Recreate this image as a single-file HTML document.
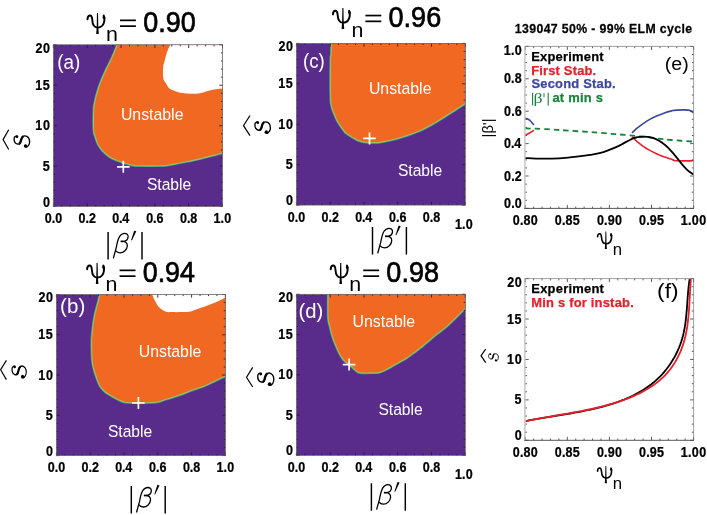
<!DOCTYPE html>
<html><head><meta charset="utf-8"><style>
html,body{margin:0;padding:0;background:#fff;}
svg{display:block;will-change:transform;}
text{font-kerning:none;}
</style></head><body>
<svg width="707" height="515" viewBox="0 0 707 515">
<rect width="707" height="515" fill="#fff"/>
<rect x="53.4" y="44.8" width="169.10" height="161.70" fill="#592c8c"/>
<path d="M117.30,44.80 C116.43,46.92 113.98,53.35 112.10,57.50 C110.22,61.65 107.90,65.62 106.00,69.70 C104.10,73.78 102.17,78.22 100.70,82.00 C99.23,85.78 98.22,88.90 97.20,92.40 C96.18,95.90 95.18,100.07 94.60,103.00 C94.02,105.93 93.85,105.42 93.70,110.00 C93.55,114.58 93.40,125.92 93.70,130.50 C94.00,135.08 94.77,135.17 95.50,137.50 C96.23,139.83 96.95,142.32 98.10,144.50 C99.25,146.68 100.52,148.57 102.40,150.60 C104.28,152.63 107.07,155.10 109.40,156.70 C111.73,158.30 114.07,159.18 116.40,160.20 C118.73,161.22 120.77,161.97 123.40,162.80 C126.03,163.63 129.43,164.70 132.20,165.20 C134.97,165.70 135.37,165.70 140.00,165.80 C144.63,165.90 155.50,165.87 160.00,165.80 C164.50,165.73 164.92,165.63 167.00,165.40 C169.08,165.17 169.83,164.92 172.50,164.40 C175.17,163.88 179.75,162.93 183.00,162.30 C186.25,161.67 189.25,161.17 192.00,160.60 C194.75,160.03 197.08,159.48 199.50,158.90 C201.92,158.32 204.20,157.68 206.50,157.10 C208.80,156.52 211.13,155.95 213.30,155.40 C215.47,154.85 217.97,154.20 219.50,153.80 C221.03,153.40 222.00,153.13 222.50,153.00" fill="none" stroke="#3b95a8" stroke-width="2.4"/>
<path d="M117.30,44.80 C116.43,46.92 113.98,53.35 112.10,57.50 C110.22,61.65 107.90,65.62 106.00,69.70 C104.10,73.78 102.17,78.22 100.70,82.00 C99.23,85.78 98.22,88.90 97.20,92.40 C96.18,95.90 95.18,100.07 94.60,103.00 C94.02,105.93 93.85,105.42 93.70,110.00 C93.55,114.58 93.40,125.92 93.70,130.50 C94.00,135.08 94.77,135.17 95.50,137.50 C96.23,139.83 96.95,142.32 98.10,144.50 C99.25,146.68 100.52,148.57 102.40,150.60 C104.28,152.63 107.07,155.10 109.40,156.70 C111.73,158.30 114.07,159.18 116.40,160.20 C118.73,161.22 120.77,161.97 123.40,162.80 C126.03,163.63 129.43,164.70 132.20,165.20 C134.97,165.70 135.37,165.70 140.00,165.80 C144.63,165.90 155.50,165.87 160.00,165.80 C164.50,165.73 164.92,165.63 167.00,165.40 C169.08,165.17 169.83,164.92 172.50,164.40 C175.17,163.88 179.75,162.93 183.00,162.30 C186.25,161.67 189.25,161.17 192.00,160.60 C194.75,160.03 197.08,159.48 199.50,158.90 C201.92,158.32 204.20,157.68 206.50,157.10 C208.80,156.52 211.13,155.95 213.30,155.40 C215.47,154.85 217.97,154.20 219.50,153.80 C221.03,153.40 222.00,153.13 222.50,153.00 L222.5,44.8 Z" fill="#f16823"/>
<path d="M117.30,44.80 C116.43,46.92 113.98,53.35 112.10,57.50 C110.22,61.65 107.90,65.62 106.00,69.70 C104.10,73.78 102.17,78.22 100.70,82.00 C99.23,85.78 98.22,88.90 97.20,92.40 C96.18,95.90 95.18,100.07 94.60,103.00 C94.02,105.93 93.85,105.42 93.70,110.00 C93.55,114.58 93.40,125.92 93.70,130.50 C94.00,135.08 94.77,135.17 95.50,137.50 C96.23,139.83 96.95,142.32 98.10,144.50 C99.25,146.68 100.52,148.57 102.40,150.60 C104.28,152.63 107.07,155.10 109.40,156.70 C111.73,158.30 114.07,159.18 116.40,160.20 C118.73,161.22 120.77,161.97 123.40,162.80 C126.03,163.63 129.43,164.70 132.20,165.20 C134.97,165.70 135.37,165.70 140.00,165.80 C144.63,165.90 155.50,165.87 160.00,165.80 C164.50,165.73 164.92,165.63 167.00,165.40 C169.08,165.17 169.83,164.92 172.50,164.40 C175.17,163.88 179.75,162.93 183.00,162.30 C186.25,161.67 189.25,161.17 192.00,160.60 C194.75,160.03 197.08,159.48 199.50,158.90 C201.92,158.32 204.20,157.68 206.50,157.10 C208.80,156.52 211.13,155.95 213.30,155.40 C215.47,154.85 217.97,154.20 219.50,153.80 C221.03,153.40 222.00,153.13 222.50,153.00" fill="none" stroke="#9cc250" stroke-width="1.1"/>
<path d="M170.20,44.80 C169.67,46.05 168.00,49.33 167.00,52.30 C166.00,55.27 164.83,60.15 164.20,62.60 C163.57,65.05 163.37,64.45 163.20,67.00 C163.03,69.55 162.75,75.18 163.20,77.90 C163.65,80.62 164.92,81.58 165.90,83.30 C166.88,85.02 167.65,86.93 169.10,88.20 C170.55,89.47 172.42,90.08 174.60,90.90 C176.78,91.72 179.47,92.63 182.20,93.10 C184.93,93.57 188.02,93.68 191.00,93.70 C193.98,93.72 197.60,93.57 200.10,93.20 C202.60,92.83 204.10,92.03 206.00,91.50 C207.90,90.97 209.83,90.38 211.50,90.00 C213.17,89.62 214.17,89.47 216.00,89.20 C217.83,88.93 221.42,88.53 222.50,88.40 L222.5,44.8 Z" fill="#fff"/>
<path d="M53.40,206.5 v-3.2 M53.40,44.8 v3.2 M61.85,206.5 v-1.6 M61.85,44.8 v1.6 M70.31,206.5 v-1.6 M70.31,44.8 v1.6 M78.77,206.5 v-1.6 M78.77,44.8 v1.6 M87.22,206.5 v-3.2 M87.22,44.8 v3.2 M95.67,206.5 v-1.6 M95.67,44.8 v1.6 M104.13,206.5 v-1.6 M104.13,44.8 v1.6 M112.59,206.5 v-1.6 M112.59,44.8 v1.6 M121.04,206.5 v-3.2 M121.04,44.8 v3.2 M129.50,206.5 v-1.6 M129.50,44.8 v1.6 M137.95,206.5 v-1.6 M137.95,44.8 v1.6 M146.41,206.5 v-1.6 M146.41,44.8 v1.6 M154.86,206.5 v-3.2 M154.86,44.8 v3.2 M163.31,206.5 v-1.6 M163.31,44.8 v1.6 M171.77,206.5 v-1.6 M171.77,44.8 v1.6 M180.22,206.5 v-1.6 M180.22,44.8 v1.6 M188.68,206.5 v-3.2 M188.68,44.8 v3.2 M197.13,206.5 v-1.6 M197.13,44.8 v1.6 M205.59,206.5 v-1.6 M205.59,44.8 v1.6 M214.05,206.5 v-1.6 M214.05,44.8 v1.6 M222.50,206.5 v-3.2 M222.50,44.8 v3.2 M53.4,206.50 h3.2 M222.5,206.50 h-3.2 M53.4,198.41 h1.6 M222.5,198.41 h-1.6 M53.4,190.33 h1.6 M222.5,190.33 h-1.6 M53.4,182.25 h1.6 M222.5,182.25 h-1.6 M53.4,174.16 h1.6 M222.5,174.16 h-1.6 M53.4,166.07 h3.2 M222.5,166.07 h-3.2 M53.4,157.99 h1.6 M222.5,157.99 h-1.6 M53.4,149.91 h1.6 M222.5,149.91 h-1.6 M53.4,141.82 h1.6 M222.5,141.82 h-1.6 M53.4,133.74 h1.6 M222.5,133.74 h-1.6 M53.4,125.65 h3.2 M222.5,125.65 h-3.2 M53.4,117.57 h1.6 M222.5,117.57 h-1.6 M53.4,109.48 h1.6 M222.5,109.48 h-1.6 M53.4,101.40 h1.6 M222.5,101.40 h-1.6 M53.4,93.31 h1.6 M222.5,93.31 h-1.6 M53.4,85.22 h3.2 M222.5,85.22 h-3.2 M53.4,77.14 h1.6 M222.5,77.14 h-1.6 M53.4,69.06 h1.6 M222.5,69.06 h-1.6 M53.4,60.97 h1.6 M222.5,60.97 h-1.6 M53.4,52.89 h1.6 M222.5,52.89 h-1.6 M53.4,44.80 h3.2 M222.5,44.80 h-3.2" stroke="#2a1a3a" stroke-width="0.9" fill="none"/>
<rect x="53.4" y="44.8" width="169.10" height="161.70" fill="none" stroke="#666" stroke-width="0.7"/>
<path d="M117.00,166.80 h12.6 M123.30,160.80 v12.0" stroke="#fff" stroke-width="1.7"/>
<text transform="translate(57.23,68.86) scale(0.9649,1)" font-family="'Liberation Sans', sans-serif" font-weight="normal" font-style="normal" font-size="19.54" fill="#fff" >(a)</text>
<text transform="translate(120.88,119.80) scale(1.0176,1)" font-family="'Liberation Sans', sans-serif" font-weight="normal" font-style="normal" font-size="15.59" fill="#fff" >Unstable</text>
<text transform="translate(146.89,190.00) scale(1.0043,1)" font-family="'Liberation Sans', sans-serif" font-weight="normal" font-style="normal" font-size="15.59" fill="#fff" >Stable</text>
<text transform="translate(42.96,206.50) scale(0.9,1)" font-family="'Liberation Sans', sans-serif" font-weight="bold" font-style="normal" font-size="13.90" letter-spacing="0.00" fill="#000" stroke="#000" stroke-width="0.25">0</text>
<text transform="translate(42.79,170.57) scale(0.9,1)" font-family="'Liberation Sans', sans-serif" font-weight="bold" font-style="normal" font-size="13.90" letter-spacing="0.00" fill="#000" stroke="#000" stroke-width="0.25">5</text>
<text transform="translate(35.21,130.15) scale(0.9,1)" font-family="'Liberation Sans', sans-serif" font-weight="bold" font-style="normal" font-size="13.90" letter-spacing="0.88" fill="#000" stroke="#000" stroke-width="0.25">10</text>
<text transform="translate(35.21,89.72) scale(0.9,1)" font-family="'Liberation Sans', sans-serif" font-weight="bold" font-style="normal" font-size="13.90" letter-spacing="0.69" fill="#000" stroke="#000" stroke-width="0.25">15</text>
<text transform="translate(35.57,52.50) scale(0.9,1)" font-family="'Liberation Sans', sans-serif" font-weight="bold" font-style="normal" font-size="13.90" letter-spacing="0.48" fill="#000" stroke="#000" stroke-width="0.25">20</text>
<text transform="translate(44.71,223.10) scale(0.9,1)" font-family="'Liberation Sans', sans-serif" font-weight="bold" font-style="normal" font-size="13.90" letter-spacing="0.01" fill="#000" stroke="#000" stroke-width="0.25">0.0</text>
<text transform="translate(78.53,223.10) scale(0.9,1)" font-family="'Liberation Sans', sans-serif" font-weight="bold" font-style="normal" font-size="13.90" letter-spacing="0.00" fill="#000" stroke="#000" stroke-width="0.25">0.2</text>
<text transform="translate(112.35,223.10) scale(0.9,1)" font-family="'Liberation Sans', sans-serif" font-weight="bold" font-style="normal" font-size="13.90" letter-spacing="-0.24" fill="#000" stroke="#000" stroke-width="0.25">0.4</text>
<text transform="translate(146.17,223.10) scale(0.9,1)" font-family="'Liberation Sans', sans-serif" font-weight="bold" font-style="normal" font-size="13.90" letter-spacing="-0.02" fill="#000" stroke="#000" stroke-width="0.25">0.6</text>
<text transform="translate(179.99,223.10) scale(0.9,1)" font-family="'Liberation Sans', sans-serif" font-weight="bold" font-style="normal" font-size="13.90" letter-spacing="-0.06" fill="#000" stroke="#000" stroke-width="0.25">0.8</text>
<text transform="translate(213.51,223.10) scale(0.9,1)" font-family="'Liberation Sans', sans-serif" font-weight="bold" font-style="normal" font-size="13.90" letter-spacing="0.17" fill="#000" stroke="#000" stroke-width="0.25">1.0</text>
<rect x="296.4" y="43.4" width="168.90" height="161.70" fill="#592c8c"/>
<path d="M331.40,43.40 C331.37,45.27 331.33,51.83 331.20,54.60 C331.07,57.37 330.70,52.87 330.60,60.00 C330.50,67.13 330.37,89.40 330.60,97.40 C330.83,105.40 331.33,105.07 332.00,108.00 C332.67,110.93 333.80,113.00 334.60,115.00 C335.40,117.00 335.98,118.42 336.80,120.00 C337.62,121.58 338.57,123.05 339.50,124.50 C340.43,125.95 341.32,127.27 342.40,128.70 C343.48,130.13 344.25,131.63 346.00,133.10 C347.75,134.57 350.87,136.25 352.90,137.50 C354.93,138.75 356.15,139.82 358.20,140.60 C360.25,141.38 362.90,141.87 365.20,142.20 C367.50,142.53 369.53,142.57 372.00,142.60 C374.47,142.63 376.55,142.87 380.00,142.40 C383.45,141.93 388.45,140.87 392.70,139.80 C396.95,138.73 401.25,137.38 405.50,136.00 C409.75,134.62 413.97,133.32 418.20,131.50 C422.43,129.68 426.67,127.43 430.90,125.10 C435.13,122.77 439.35,120.15 443.60,117.50 C447.85,114.85 452.78,111.53 456.40,109.20 C460.02,106.87 463.82,104.45 465.30,103.50" fill="none" stroke="#3b95a8" stroke-width="2.4"/>
<path d="M331.40,43.40 C331.37,45.27 331.33,51.83 331.20,54.60 C331.07,57.37 330.70,52.87 330.60,60.00 C330.50,67.13 330.37,89.40 330.60,97.40 C330.83,105.40 331.33,105.07 332.00,108.00 C332.67,110.93 333.80,113.00 334.60,115.00 C335.40,117.00 335.98,118.42 336.80,120.00 C337.62,121.58 338.57,123.05 339.50,124.50 C340.43,125.95 341.32,127.27 342.40,128.70 C343.48,130.13 344.25,131.63 346.00,133.10 C347.75,134.57 350.87,136.25 352.90,137.50 C354.93,138.75 356.15,139.82 358.20,140.60 C360.25,141.38 362.90,141.87 365.20,142.20 C367.50,142.53 369.53,142.57 372.00,142.60 C374.47,142.63 376.55,142.87 380.00,142.40 C383.45,141.93 388.45,140.87 392.70,139.80 C396.95,138.73 401.25,137.38 405.50,136.00 C409.75,134.62 413.97,133.32 418.20,131.50 C422.43,129.68 426.67,127.43 430.90,125.10 C435.13,122.77 439.35,120.15 443.60,117.50 C447.85,114.85 452.78,111.53 456.40,109.20 C460.02,106.87 463.82,104.45 465.30,103.50 L465.3,43.4 Z" fill="#f16823"/>
<path d="M331.40,43.40 C331.37,45.27 331.33,51.83 331.20,54.60 C331.07,57.37 330.70,52.87 330.60,60.00 C330.50,67.13 330.37,89.40 330.60,97.40 C330.83,105.40 331.33,105.07 332.00,108.00 C332.67,110.93 333.80,113.00 334.60,115.00 C335.40,117.00 335.98,118.42 336.80,120.00 C337.62,121.58 338.57,123.05 339.50,124.50 C340.43,125.95 341.32,127.27 342.40,128.70 C343.48,130.13 344.25,131.63 346.00,133.10 C347.75,134.57 350.87,136.25 352.90,137.50 C354.93,138.75 356.15,139.82 358.20,140.60 C360.25,141.38 362.90,141.87 365.20,142.20 C367.50,142.53 369.53,142.57 372.00,142.60 C374.47,142.63 376.55,142.87 380.00,142.40 C383.45,141.93 388.45,140.87 392.70,139.80 C396.95,138.73 401.25,137.38 405.50,136.00 C409.75,134.62 413.97,133.32 418.20,131.50 C422.43,129.68 426.67,127.43 430.90,125.10 C435.13,122.77 439.35,120.15 443.60,117.50 C447.85,114.85 452.78,111.53 456.40,109.20 C460.02,106.87 463.82,104.45 465.30,103.50" fill="none" stroke="#9cc250" stroke-width="1.1"/>
<path d="M296.40,205.1 v-3.2 M296.40,43.4 v3.2 M304.84,205.1 v-1.6 M304.84,43.4 v1.6 M313.29,205.1 v-1.6 M313.29,43.4 v1.6 M321.73,205.1 v-1.6 M321.73,43.4 v1.6 M330.18,205.1 v-3.2 M330.18,43.4 v3.2 M338.62,205.1 v-1.6 M338.62,43.4 v1.6 M347.07,205.1 v-1.6 M347.07,43.4 v1.6 M355.51,205.1 v-1.6 M355.51,43.4 v1.6 M363.96,205.1 v-3.2 M363.96,43.4 v3.2 M372.40,205.1 v-1.6 M372.40,43.4 v1.6 M380.85,205.1 v-1.6 M380.85,43.4 v1.6 M389.29,205.1 v-1.6 M389.29,43.4 v1.6 M397.74,205.1 v-3.2 M397.74,43.4 v3.2 M406.19,205.1 v-1.6 M406.19,43.4 v1.6 M414.63,205.1 v-1.6 M414.63,43.4 v1.6 M423.07,205.1 v-1.6 M423.07,43.4 v1.6 M431.52,205.1 v-3.2 M431.52,43.4 v3.2 M439.97,205.1 v-1.6 M439.97,43.4 v1.6 M448.41,205.1 v-1.6 M448.41,43.4 v1.6 M456.86,205.1 v-1.6 M456.86,43.4 v1.6 M465.30,205.1 v-3.2 M465.30,43.4 v3.2 M296.4,205.10 h3.2 M465.3,205.10 h-3.2 M296.4,197.01 h1.6 M465.3,197.01 h-1.6 M296.4,188.93 h1.6 M465.3,188.93 h-1.6 M296.4,180.84 h1.6 M465.3,180.84 h-1.6 M296.4,172.76 h1.6 M465.3,172.76 h-1.6 M296.4,164.68 h3.2 M465.3,164.68 h-3.2 M296.4,156.59 h1.6 M465.3,156.59 h-1.6 M296.4,148.50 h1.6 M465.3,148.50 h-1.6 M296.4,140.42 h1.6 M465.3,140.42 h-1.6 M296.4,132.33 h1.6 M465.3,132.33 h-1.6 M296.4,124.25 h3.2 M465.3,124.25 h-3.2 M296.4,116.17 h1.6 M465.3,116.17 h-1.6 M296.4,108.08 h1.6 M465.3,108.08 h-1.6 M296.4,100.00 h1.6 M465.3,100.00 h-1.6 M296.4,91.91 h1.6 M465.3,91.91 h-1.6 M296.4,83.82 h3.2 M465.3,83.82 h-3.2 M296.4,75.74 h1.6 M465.3,75.74 h-1.6 M296.4,67.66 h1.6 M465.3,67.66 h-1.6 M296.4,59.57 h1.6 M465.3,59.57 h-1.6 M296.4,51.49 h1.6 M465.3,51.49 h-1.6 M296.4,43.40 h3.2 M465.3,43.40 h-3.2" stroke="#2a1a3a" stroke-width="0.9" fill="none"/>
<rect x="296.4" y="43.4" width="168.90" height="161.70" fill="none" stroke="#666" stroke-width="0.7"/>
<path d="M363.20,138.40 h12.6 M369.50,132.40 v12.0" stroke="#fff" stroke-width="1.7"/>
<text transform="translate(303.04,68.29) scale(0.9424,1)" font-family="'Liberation Sans', sans-serif" font-weight="normal" font-style="normal" font-size="19.86" fill="#fff" >(c)</text>
<text transform="translate(368.88,93.50) scale(1.0176,1)" font-family="'Liberation Sans', sans-serif" font-weight="normal" font-style="normal" font-size="15.59" fill="#fff" >Unstable</text>
<text transform="translate(397.89,175.50) scale(1.0043,1)" font-family="'Liberation Sans', sans-serif" font-weight="normal" font-style="normal" font-size="15.59" fill="#fff" >Stable</text>
<text transform="translate(285.96,205.10) scale(0.9,1)" font-family="'Liberation Sans', sans-serif" font-weight="bold" font-style="normal" font-size="13.90" letter-spacing="0.00" fill="#000" stroke="#000" stroke-width="0.25">0</text>
<text transform="translate(285.79,169.18) scale(0.9,1)" font-family="'Liberation Sans', sans-serif" font-weight="bold" font-style="normal" font-size="13.90" letter-spacing="0.00" fill="#000" stroke="#000" stroke-width="0.25">5</text>
<text transform="translate(278.21,128.75) scale(0.9,1)" font-family="'Liberation Sans', sans-serif" font-weight="bold" font-style="normal" font-size="13.90" letter-spacing="0.88" fill="#000" stroke="#000" stroke-width="0.25">10</text>
<text transform="translate(278.21,88.32) scale(0.9,1)" font-family="'Liberation Sans', sans-serif" font-weight="bold" font-style="normal" font-size="13.90" letter-spacing="0.69" fill="#000" stroke="#000" stroke-width="0.25">15</text>
<text transform="translate(278.57,51.10) scale(0.9,1)" font-family="'Liberation Sans', sans-serif" font-weight="bold" font-style="normal" font-size="13.90" letter-spacing="0.48" fill="#000" stroke="#000" stroke-width="0.25">20</text>
<text transform="translate(287.71,221.70) scale(0.9,1)" font-family="'Liberation Sans', sans-serif" font-weight="bold" font-style="normal" font-size="13.90" letter-spacing="0.01" fill="#000" stroke="#000" stroke-width="0.25">0.0</text>
<text transform="translate(321.49,221.70) scale(0.9,1)" font-family="'Liberation Sans', sans-serif" font-weight="bold" font-style="normal" font-size="13.90" letter-spacing="0.00" fill="#000" stroke="#000" stroke-width="0.25">0.2</text>
<text transform="translate(355.27,221.70) scale(0.9,1)" font-family="'Liberation Sans', sans-serif" font-weight="bold" font-style="normal" font-size="13.90" letter-spacing="-0.24" fill="#000" stroke="#000" stroke-width="0.25">0.4</text>
<text transform="translate(389.05,221.70) scale(0.9,1)" font-family="'Liberation Sans', sans-serif" font-weight="bold" font-style="normal" font-size="13.90" letter-spacing="-0.02" fill="#000" stroke="#000" stroke-width="0.25">0.6</text>
<text transform="translate(422.83,221.70) scale(0.9,1)" font-family="'Liberation Sans', sans-serif" font-weight="bold" font-style="normal" font-size="13.90" letter-spacing="-0.06" fill="#000" stroke="#000" stroke-width="0.25">0.8</text>
<text transform="translate(455.01,228.70) scale(0.9,1)" font-family="'Liberation Sans', sans-serif" font-weight="bold" font-style="normal" font-size="13.90" letter-spacing="0.17" fill="#000" stroke="#000" stroke-width="0.25">1.0</text>
<rect x="56.4" y="294.5" width="169.00" height="161.10" fill="#592c8c"/>
<path d="M99.80,294.50 C99.60,295.45 99.08,298.22 98.60,300.20 C98.12,302.18 97.48,304.22 96.90,306.40 C96.32,308.58 95.68,310.53 95.10,313.30 C94.52,316.07 93.92,319.35 93.40,323.00 C92.88,326.65 92.30,331.70 92.00,335.20 C91.70,338.70 91.60,340.20 91.60,344.00 C91.60,347.80 91.80,354.52 92.00,358.00 C92.20,361.48 92.37,362.58 92.80,364.90 C93.23,367.22 94.02,369.88 94.60,371.90 C95.18,373.92 95.43,374.70 96.30,377.00 C97.17,379.30 98.48,383.37 99.80,385.70 C101.12,388.03 102.45,389.40 104.20,391.00 C105.95,392.60 107.97,393.85 110.30,395.30 C112.63,396.75 115.72,398.53 118.20,399.70 C120.68,400.87 122.58,401.80 125.20,402.30 C127.82,402.80 128.77,402.70 133.90,402.70 C139.03,402.70 150.87,402.80 156.00,402.30 C161.13,401.80 160.92,400.87 164.70,399.70 C168.48,398.53 174.05,396.90 178.70,395.30 C183.35,393.70 188.23,391.70 192.60,390.10 C196.97,388.50 201.12,387.25 204.90,385.70 C208.68,384.15 211.88,382.40 215.30,380.80 C218.72,379.20 223.72,376.88 225.40,376.10" fill="none" stroke="#3b95a8" stroke-width="2.4"/>
<path d="M99.80,294.50 C99.60,295.45 99.08,298.22 98.60,300.20 C98.12,302.18 97.48,304.22 96.90,306.40 C96.32,308.58 95.68,310.53 95.10,313.30 C94.52,316.07 93.92,319.35 93.40,323.00 C92.88,326.65 92.30,331.70 92.00,335.20 C91.70,338.70 91.60,340.20 91.60,344.00 C91.60,347.80 91.80,354.52 92.00,358.00 C92.20,361.48 92.37,362.58 92.80,364.90 C93.23,367.22 94.02,369.88 94.60,371.90 C95.18,373.92 95.43,374.70 96.30,377.00 C97.17,379.30 98.48,383.37 99.80,385.70 C101.12,388.03 102.45,389.40 104.20,391.00 C105.95,392.60 107.97,393.85 110.30,395.30 C112.63,396.75 115.72,398.53 118.20,399.70 C120.68,400.87 122.58,401.80 125.20,402.30 C127.82,402.80 128.77,402.70 133.90,402.70 C139.03,402.70 150.87,402.80 156.00,402.30 C161.13,401.80 160.92,400.87 164.70,399.70 C168.48,398.53 174.05,396.90 178.70,395.30 C183.35,393.70 188.23,391.70 192.60,390.10 C196.97,388.50 201.12,387.25 204.90,385.70 C208.68,384.15 211.88,382.40 215.30,380.80 C218.72,379.20 223.72,376.88 225.40,376.10 L225.4,294.5 Z" fill="#f16823"/>
<path d="M99.80,294.50 C99.60,295.45 99.08,298.22 98.60,300.20 C98.12,302.18 97.48,304.22 96.90,306.40 C96.32,308.58 95.68,310.53 95.10,313.30 C94.52,316.07 93.92,319.35 93.40,323.00 C92.88,326.65 92.30,331.70 92.00,335.20 C91.70,338.70 91.60,340.20 91.60,344.00 C91.60,347.80 91.80,354.52 92.00,358.00 C92.20,361.48 92.37,362.58 92.80,364.90 C93.23,367.22 94.02,369.88 94.60,371.90 C95.18,373.92 95.43,374.70 96.30,377.00 C97.17,379.30 98.48,383.37 99.80,385.70 C101.12,388.03 102.45,389.40 104.20,391.00 C105.95,392.60 107.97,393.85 110.30,395.30 C112.63,396.75 115.72,398.53 118.20,399.70 C120.68,400.87 122.58,401.80 125.20,402.30 C127.82,402.80 128.77,402.70 133.90,402.70 C139.03,402.70 150.87,402.80 156.00,402.30 C161.13,401.80 160.92,400.87 164.70,399.70 C168.48,398.53 174.05,396.90 178.70,395.30 C183.35,393.70 188.23,391.70 192.60,390.10 C196.97,388.50 201.12,387.25 204.90,385.70 C208.68,384.15 211.88,382.40 215.30,380.80 C218.72,379.20 223.72,376.88 225.40,376.10" fill="none" stroke="#9cc250" stroke-width="1.1"/>
<path d="M152.10,294.50 C152.63,295.67 154.13,299.38 155.30,301.50 C156.47,303.62 157.40,305.52 159.10,307.20 C160.80,308.88 163.35,310.78 165.50,311.60 C167.65,312.42 169.25,312.02 172.00,312.10 C174.75,312.18 179.17,312.15 182.00,312.10 C184.83,312.05 186.67,312.25 189.00,311.80 C191.33,311.35 193.13,310.37 196.00,309.40 C198.87,308.43 202.80,307.22 206.20,306.00 C209.60,304.78 213.20,303.50 216.40,302.10 C219.60,300.70 223.90,298.35 225.40,297.60 L225.4,294.5 Z" fill="#fff"/>
<path d="M56.40,455.6 v-3.2 M56.40,294.5 v3.2 M64.85,455.6 v-1.6 M64.85,294.5 v1.6 M73.30,455.6 v-1.6 M73.30,294.5 v1.6 M81.75,455.6 v-1.6 M81.75,294.5 v1.6 M90.20,455.6 v-3.2 M90.20,294.5 v3.2 M98.65,455.6 v-1.6 M98.65,294.5 v1.6 M107.10,455.6 v-1.6 M107.10,294.5 v1.6 M115.55,455.6 v-1.6 M115.55,294.5 v1.6 M124.00,455.6 v-3.2 M124.00,294.5 v3.2 M132.45,455.6 v-1.6 M132.45,294.5 v1.6 M140.90,455.6 v-1.6 M140.90,294.5 v1.6 M149.35,455.6 v-1.6 M149.35,294.5 v1.6 M157.80,455.6 v-3.2 M157.80,294.5 v3.2 M166.25,455.6 v-1.6 M166.25,294.5 v1.6 M174.70,455.6 v-1.6 M174.70,294.5 v1.6 M183.15,455.6 v-1.6 M183.15,294.5 v1.6 M191.60,455.6 v-3.2 M191.60,294.5 v3.2 M200.05,455.6 v-1.6 M200.05,294.5 v1.6 M208.50,455.6 v-1.6 M208.50,294.5 v1.6 M216.95,455.6 v-1.6 M216.95,294.5 v1.6 M225.40,455.6 v-3.2 M225.40,294.5 v3.2 M56.4,455.60 h3.2 M225.4,455.60 h-3.2 M56.4,447.55 h1.6 M225.4,447.55 h-1.6 M56.4,439.49 h1.6 M225.4,439.49 h-1.6 M56.4,431.44 h1.6 M225.4,431.44 h-1.6 M56.4,423.38 h1.6 M225.4,423.38 h-1.6 M56.4,415.33 h3.2 M225.4,415.33 h-3.2 M56.4,407.27 h1.6 M225.4,407.27 h-1.6 M56.4,399.22 h1.6 M225.4,399.22 h-1.6 M56.4,391.16 h1.6 M225.4,391.16 h-1.6 M56.4,383.11 h1.6 M225.4,383.11 h-1.6 M56.4,375.05 h3.2 M225.4,375.05 h-3.2 M56.4,367.00 h1.6 M225.4,367.00 h-1.6 M56.4,358.94 h1.6 M225.4,358.94 h-1.6 M56.4,350.88 h1.6 M225.4,350.88 h-1.6 M56.4,342.83 h1.6 M225.4,342.83 h-1.6 M56.4,334.77 h3.2 M225.4,334.77 h-3.2 M56.4,326.72 h1.6 M225.4,326.72 h-1.6 M56.4,318.67 h1.6 M225.4,318.67 h-1.6 M56.4,310.61 h1.6 M225.4,310.61 h-1.6 M56.4,302.56 h1.6 M225.4,302.56 h-1.6 M56.4,294.50 h3.2 M225.4,294.50 h-3.2" stroke="#2a1a3a" stroke-width="0.9" fill="none"/>
<rect x="56.4" y="294.5" width="169.00" height="161.10" fill="none" stroke="#666" stroke-width="0.7"/>
<path d="M132.10,403.00 h12.6 M138.40,397.00 v12.0" stroke="#fff" stroke-width="1.7"/>
<text transform="translate(60.12,313.06) scale(1.0535,1)" font-family="'Liberation Sans', sans-serif" font-weight="normal" font-style="normal" font-size="19.54" fill="#fff" >(b)</text>
<text transform="translate(138.68,357.30) scale(1.0176,1)" font-family="'Liberation Sans', sans-serif" font-weight="normal" font-style="normal" font-size="15.59" fill="#fff" >Unstable</text>
<text transform="translate(107.89,437.30) scale(1.0043,1)" font-family="'Liberation Sans', sans-serif" font-weight="normal" font-style="normal" font-size="15.59" fill="#fff" >Stable</text>
<text transform="translate(45.96,455.60) scale(0.9,1)" font-family="'Liberation Sans', sans-serif" font-weight="bold" font-style="normal" font-size="13.90" letter-spacing="0.00" fill="#000" stroke="#000" stroke-width="0.25">0</text>
<text transform="translate(45.79,419.83) scale(0.9,1)" font-family="'Liberation Sans', sans-serif" font-weight="bold" font-style="normal" font-size="13.90" letter-spacing="0.00" fill="#000" stroke="#000" stroke-width="0.25">5</text>
<text transform="translate(38.21,379.55) scale(0.9,1)" font-family="'Liberation Sans', sans-serif" font-weight="bold" font-style="normal" font-size="13.90" letter-spacing="0.88" fill="#000" stroke="#000" stroke-width="0.25">10</text>
<text transform="translate(38.21,339.27) scale(0.9,1)" font-family="'Liberation Sans', sans-serif" font-weight="bold" font-style="normal" font-size="13.90" letter-spacing="0.69" fill="#000" stroke="#000" stroke-width="0.25">15</text>
<text transform="translate(38.57,302.20) scale(0.9,1)" font-family="'Liberation Sans', sans-serif" font-weight="bold" font-style="normal" font-size="13.90" letter-spacing="0.48" fill="#000" stroke="#000" stroke-width="0.25">20</text>
<text transform="translate(47.71,472.20) scale(0.9,1)" font-family="'Liberation Sans', sans-serif" font-weight="bold" font-style="normal" font-size="13.90" letter-spacing="0.01" fill="#000" stroke="#000" stroke-width="0.25">0.0</text>
<text transform="translate(81.51,472.20) scale(0.9,1)" font-family="'Liberation Sans', sans-serif" font-weight="bold" font-style="normal" font-size="13.90" letter-spacing="0.00" fill="#000" stroke="#000" stroke-width="0.25">0.2</text>
<text transform="translate(115.31,472.20) scale(0.9,1)" font-family="'Liberation Sans', sans-serif" font-weight="bold" font-style="normal" font-size="13.90" letter-spacing="-0.24" fill="#000" stroke="#000" stroke-width="0.25">0.4</text>
<text transform="translate(149.11,472.20) scale(0.9,1)" font-family="'Liberation Sans', sans-serif" font-weight="bold" font-style="normal" font-size="13.90" letter-spacing="-0.02" fill="#000" stroke="#000" stroke-width="0.25">0.6</text>
<text transform="translate(182.91,472.20) scale(0.9,1)" font-family="'Liberation Sans', sans-serif" font-weight="bold" font-style="normal" font-size="13.90" letter-spacing="-0.06" fill="#000" stroke="#000" stroke-width="0.25">0.8</text>
<text transform="translate(216.41,472.20) scale(0.9,1)" font-family="'Liberation Sans', sans-serif" font-weight="bold" font-style="normal" font-size="13.90" letter-spacing="0.17" fill="#000" stroke="#000" stroke-width="0.25">1.0</text>
<rect x="296.4" y="294.3" width="168.90" height="161.10" fill="#592c8c"/>
<path d="M328.10,294.30 C328.10,298.20 327.80,312.33 328.10,317.70 C328.40,323.07 329.25,323.58 329.90,326.50 C330.55,329.42 331.13,332.30 332.00,335.20 C332.87,338.10 333.93,340.98 335.10,343.90 C336.27,346.82 337.63,350.07 339.00,352.70 C340.37,355.33 341.57,357.67 343.30,359.70 C345.03,361.73 347.22,363.02 349.40,364.90 C351.58,366.78 354.65,369.68 356.40,371.00 C358.15,372.32 357.63,372.48 359.90,372.80 C362.17,373.12 366.87,372.93 370.00,372.90 C373.13,372.87 376.48,372.93 378.70,372.60 C380.92,372.27 381.23,371.83 383.30,370.90 C385.37,369.97 388.50,368.42 391.10,367.00 C393.70,365.58 396.30,363.90 398.90,362.40 C401.50,360.90 404.10,359.68 406.70,358.00 C409.30,356.32 411.92,354.22 414.50,352.30 C417.08,350.38 419.62,348.58 422.20,346.50 C424.78,344.42 427.40,341.98 430.00,339.80 C432.60,337.62 435.20,335.47 437.80,333.40 C440.40,331.33 443.00,329.60 445.60,327.40 C448.20,325.20 450.82,322.70 453.40,320.20 C455.98,317.70 459.12,314.40 461.10,312.40 C463.08,310.40 464.60,308.90 465.30,308.20" fill="none" stroke="#3b95a8" stroke-width="2.4"/>
<path d="M328.10,294.30 C328.10,298.20 327.80,312.33 328.10,317.70 C328.40,323.07 329.25,323.58 329.90,326.50 C330.55,329.42 331.13,332.30 332.00,335.20 C332.87,338.10 333.93,340.98 335.10,343.90 C336.27,346.82 337.63,350.07 339.00,352.70 C340.37,355.33 341.57,357.67 343.30,359.70 C345.03,361.73 347.22,363.02 349.40,364.90 C351.58,366.78 354.65,369.68 356.40,371.00 C358.15,372.32 357.63,372.48 359.90,372.80 C362.17,373.12 366.87,372.93 370.00,372.90 C373.13,372.87 376.48,372.93 378.70,372.60 C380.92,372.27 381.23,371.83 383.30,370.90 C385.37,369.97 388.50,368.42 391.10,367.00 C393.70,365.58 396.30,363.90 398.90,362.40 C401.50,360.90 404.10,359.68 406.70,358.00 C409.30,356.32 411.92,354.22 414.50,352.30 C417.08,350.38 419.62,348.58 422.20,346.50 C424.78,344.42 427.40,341.98 430.00,339.80 C432.60,337.62 435.20,335.47 437.80,333.40 C440.40,331.33 443.00,329.60 445.60,327.40 C448.20,325.20 450.82,322.70 453.40,320.20 C455.98,317.70 459.12,314.40 461.10,312.40 C463.08,310.40 464.60,308.90 465.30,308.20 L465.3,294.3 Z" fill="#f16823"/>
<path d="M328.10,294.30 C328.10,298.20 327.80,312.33 328.10,317.70 C328.40,323.07 329.25,323.58 329.90,326.50 C330.55,329.42 331.13,332.30 332.00,335.20 C332.87,338.10 333.93,340.98 335.10,343.90 C336.27,346.82 337.63,350.07 339.00,352.70 C340.37,355.33 341.57,357.67 343.30,359.70 C345.03,361.73 347.22,363.02 349.40,364.90 C351.58,366.78 354.65,369.68 356.40,371.00 C358.15,372.32 357.63,372.48 359.90,372.80 C362.17,373.12 366.87,372.93 370.00,372.90 C373.13,372.87 376.48,372.93 378.70,372.60 C380.92,372.27 381.23,371.83 383.30,370.90 C385.37,369.97 388.50,368.42 391.10,367.00 C393.70,365.58 396.30,363.90 398.90,362.40 C401.50,360.90 404.10,359.68 406.70,358.00 C409.30,356.32 411.92,354.22 414.50,352.30 C417.08,350.38 419.62,348.58 422.20,346.50 C424.78,344.42 427.40,341.98 430.00,339.80 C432.60,337.62 435.20,335.47 437.80,333.40 C440.40,331.33 443.00,329.60 445.60,327.40 C448.20,325.20 450.82,322.70 453.40,320.20 C455.98,317.70 459.12,314.40 461.10,312.40 C463.08,310.40 464.60,308.90 465.30,308.20" fill="none" stroke="#9cc250" stroke-width="1.1"/>
<path d="M296.40,455.4 v-3.2 M296.40,294.3 v3.2 M304.84,455.4 v-1.6 M304.84,294.3 v1.6 M313.29,455.4 v-1.6 M313.29,294.3 v1.6 M321.73,455.4 v-1.6 M321.73,294.3 v1.6 M330.18,455.4 v-3.2 M330.18,294.3 v3.2 M338.62,455.4 v-1.6 M338.62,294.3 v1.6 M347.07,455.4 v-1.6 M347.07,294.3 v1.6 M355.51,455.4 v-1.6 M355.51,294.3 v1.6 M363.96,455.4 v-3.2 M363.96,294.3 v3.2 M372.40,455.4 v-1.6 M372.40,294.3 v1.6 M380.85,455.4 v-1.6 M380.85,294.3 v1.6 M389.29,455.4 v-1.6 M389.29,294.3 v1.6 M397.74,455.4 v-3.2 M397.74,294.3 v3.2 M406.19,455.4 v-1.6 M406.19,294.3 v1.6 M414.63,455.4 v-1.6 M414.63,294.3 v1.6 M423.07,455.4 v-1.6 M423.07,294.3 v1.6 M431.52,455.4 v-3.2 M431.52,294.3 v3.2 M439.97,455.4 v-1.6 M439.97,294.3 v1.6 M448.41,455.4 v-1.6 M448.41,294.3 v1.6 M456.86,455.4 v-1.6 M456.86,294.3 v1.6 M465.30,455.4 v-3.2 M465.30,294.3 v3.2 M296.4,455.40 h3.2 M465.3,455.40 h-3.2 M296.4,447.34 h1.6 M465.3,447.34 h-1.6 M296.4,439.29 h1.6 M465.3,439.29 h-1.6 M296.4,431.23 h1.6 M465.3,431.23 h-1.6 M296.4,423.18 h1.6 M465.3,423.18 h-1.6 M296.4,415.12 h3.2 M465.3,415.12 h-3.2 M296.4,407.07 h1.6 M465.3,407.07 h-1.6 M296.4,399.01 h1.6 M465.3,399.01 h-1.6 M296.4,390.96 h1.6 M465.3,390.96 h-1.6 M296.4,382.90 h1.6 M465.3,382.90 h-1.6 M296.4,374.85 h3.2 M465.3,374.85 h-3.2 M296.4,366.79 h1.6 M465.3,366.79 h-1.6 M296.4,358.74 h1.6 M465.3,358.74 h-1.6 M296.4,350.69 h1.6 M465.3,350.69 h-1.6 M296.4,342.63 h1.6 M465.3,342.63 h-1.6 M296.4,334.57 h3.2 M465.3,334.57 h-3.2 M296.4,326.52 h1.6 M465.3,326.52 h-1.6 M296.4,318.47 h1.6 M465.3,318.47 h-1.6 M296.4,310.41 h1.6 M465.3,310.41 h-1.6 M296.4,302.36 h1.6 M465.3,302.36 h-1.6 M296.4,294.30 h3.2 M465.3,294.30 h-3.2" stroke="#2a1a3a" stroke-width="0.9" fill="none"/>
<rect x="296.4" y="294.3" width="168.90" height="161.10" fill="none" stroke="#666" stroke-width="0.7"/>
<path d="M342.80,364.60 h12.6 M349.10,358.60 v12.0" stroke="#fff" stroke-width="1.7"/>
<text transform="translate(298.54,318.34) scale(1.0117,1)" font-family="'Liberation Sans', sans-serif" font-weight="normal" font-style="normal" font-size="20.07" fill="#fff" >(d)</text>
<text transform="translate(352.58,327.30) scale(1.0176,1)" font-family="'Liberation Sans', sans-serif" font-weight="normal" font-style="normal" font-size="15.59" fill="#fff" >Unstable</text>
<text transform="translate(378.39,415.30) scale(1.0043,1)" font-family="'Liberation Sans', sans-serif" font-weight="normal" font-style="normal" font-size="15.59" fill="#fff" >Stable</text>
<text transform="translate(285.96,455.40) scale(0.9,1)" font-family="'Liberation Sans', sans-serif" font-weight="bold" font-style="normal" font-size="13.90" letter-spacing="0.00" fill="#000" stroke="#000" stroke-width="0.25">0</text>
<text transform="translate(285.79,419.62) scale(0.9,1)" font-family="'Liberation Sans', sans-serif" font-weight="bold" font-style="normal" font-size="13.90" letter-spacing="0.00" fill="#000" stroke="#000" stroke-width="0.25">5</text>
<text transform="translate(278.21,379.35) scale(0.9,1)" font-family="'Liberation Sans', sans-serif" font-weight="bold" font-style="normal" font-size="13.90" letter-spacing="0.88" fill="#000" stroke="#000" stroke-width="0.25">10</text>
<text transform="translate(278.21,339.07) scale(0.9,1)" font-family="'Liberation Sans', sans-serif" font-weight="bold" font-style="normal" font-size="13.90" letter-spacing="0.69" fill="#000" stroke="#000" stroke-width="0.25">15</text>
<text transform="translate(278.57,302.00) scale(0.9,1)" font-family="'Liberation Sans', sans-serif" font-weight="bold" font-style="normal" font-size="13.90" letter-spacing="0.48" fill="#000" stroke="#000" stroke-width="0.25">20</text>
<text transform="translate(287.71,472.00) scale(0.9,1)" font-family="'Liberation Sans', sans-serif" font-weight="bold" font-style="normal" font-size="13.90" letter-spacing="0.01" fill="#000" stroke="#000" stroke-width="0.25">0.0</text>
<text transform="translate(321.49,472.00) scale(0.9,1)" font-family="'Liberation Sans', sans-serif" font-weight="bold" font-style="normal" font-size="13.90" letter-spacing="0.00" fill="#000" stroke="#000" stroke-width="0.25">0.2</text>
<text transform="translate(355.27,472.00) scale(0.9,1)" font-family="'Liberation Sans', sans-serif" font-weight="bold" font-style="normal" font-size="13.90" letter-spacing="-0.24" fill="#000" stroke="#000" stroke-width="0.25">0.4</text>
<text transform="translate(389.05,472.00) scale(0.9,1)" font-family="'Liberation Sans', sans-serif" font-weight="bold" font-style="normal" font-size="13.90" letter-spacing="-0.02" fill="#000" stroke="#000" stroke-width="0.25">0.6</text>
<text transform="translate(422.83,472.00) scale(0.9,1)" font-family="'Liberation Sans', sans-serif" font-weight="bold" font-style="normal" font-size="13.90" letter-spacing="-0.06" fill="#000" stroke="#000" stroke-width="0.25">0.8</text>
<text transform="translate(455.01,479.00) scale(0.9,1)" font-family="'Liberation Sans', sans-serif" font-weight="bold" font-style="normal" font-size="13.90" letter-spacing="0.17" fill="#000" stroke="#000" stroke-width="0.25">1.0</text>
<g transform="translate(97.50,12.90) scale(1.0000) translate(-97.5,-12.9)"><path d="M96.95,12.9 L98.05,12.9 L98.3,27.2 L98.8,33.9 L96.2,33.9 L96.7,27.2 Z" fill="#000"/><path d="M87.5,19.2 C87.6,17.0 88.6,15.5 90.0,15.5 C91.5,15.5 92.1,17.2 92.3,20.0 C92.5,24.5 94.2,27.4 97.5,27.6 C101.0,27.5 103.8,25.0 104.3,21.0 C104.6,18.6 104.4,16.8 103.7,15.6" fill="none" stroke="#000" stroke-width="1.95" stroke-linecap="round"/><ellipse cx="103.9" cy="17.3" rx="1.25" ry="1.8" fill="#000"/></g>
<text transform="translate(105.98,41.30) scale(1.0773,1)" font-family="'Liberation Sans', sans-serif" font-weight="normal" font-style="normal" font-size="19.89" fill="#000" >n</text>
<rect x="120.00" y="19.50" width="15.9" height="1.7" fill="#000"/>
<rect x="120.00" y="25.30" width="15.9" height="1.7" fill="#000"/>
<text transform="translate(143.15,32.01) scale(0.9227,1)" font-family="'Liberation Sans', sans-serif" font-weight="normal" font-style="normal" font-size="29.24" fill="#000" stroke="#000" stroke-width="0.7">0.90</text>
<g transform="translate(342.90,8.10) scale(1.0000) translate(-97.5,-12.9)"><path d="M96.95,12.9 L98.05,12.9 L98.3,27.2 L98.8,33.9 L96.2,33.9 L96.7,27.2 Z" fill="#000"/><path d="M87.5,19.2 C87.6,17.0 88.6,15.5 90.0,15.5 C91.5,15.5 92.1,17.2 92.3,20.0 C92.5,24.5 94.2,27.4 97.5,27.6 C101.0,27.5 103.8,25.0 104.3,21.0 C104.6,18.6 104.4,16.8 103.7,15.6" fill="none" stroke="#000" stroke-width="1.95" stroke-linecap="round"/><ellipse cx="103.9" cy="17.3" rx="1.25" ry="1.8" fill="#000"/></g>
<text transform="translate(351.38,36.50) scale(1.0773,1)" font-family="'Liberation Sans', sans-serif" font-weight="normal" font-style="normal" font-size="19.89" fill="#000" >n</text>
<rect x="365.40" y="14.70" width="15.9" height="1.7" fill="#000"/>
<rect x="365.40" y="20.50" width="15.9" height="1.7" fill="#000"/>
<text transform="translate(388.54,27.21) scale(0.9252,1)" font-family="'Liberation Sans', sans-serif" font-weight="normal" font-style="normal" font-size="29.24" fill="#000" stroke="#000" stroke-width="0.7">0.96</text>
<g transform="translate(97.10,262.90) scale(1.0000) translate(-97.5,-12.9)"><path d="M96.95,12.9 L98.05,12.9 L98.3,27.2 L98.8,33.9 L96.2,33.9 L96.7,27.2 Z" fill="#000"/><path d="M87.5,19.2 C87.6,17.0 88.6,15.5 90.0,15.5 C91.5,15.5 92.1,17.2 92.3,20.0 C92.5,24.5 94.2,27.4 97.5,27.6 C101.0,27.5 103.8,25.0 104.3,21.0 C104.6,18.6 104.4,16.8 103.7,15.6" fill="none" stroke="#000" stroke-width="1.95" stroke-linecap="round"/><ellipse cx="103.9" cy="17.3" rx="1.25" ry="1.8" fill="#000"/></g>
<text transform="translate(105.58,291.30) scale(1.0773,1)" font-family="'Liberation Sans', sans-serif" font-weight="normal" font-style="normal" font-size="19.89" fill="#000" >n</text>
<rect x="119.60" y="269.50" width="15.9" height="1.7" fill="#000"/>
<rect x="119.60" y="275.30" width="15.9" height="1.7" fill="#000"/>
<text transform="translate(142.75,282.01) scale(0.9179,1)" font-family="'Liberation Sans', sans-serif" font-weight="normal" font-style="normal" font-size="29.24" fill="#000" stroke="#000" stroke-width="0.7">0.94</text>
<g transform="translate(340.70,262.90) scale(1.0000) translate(-97.5,-12.9)"><path d="M96.95,12.9 L98.05,12.9 L98.3,27.2 L98.8,33.9 L96.2,33.9 L96.7,27.2 Z" fill="#000"/><path d="M87.5,19.2 C87.6,17.0 88.6,15.5 90.0,15.5 C91.5,15.5 92.1,17.2 92.3,20.0 C92.5,24.5 94.2,27.4 97.5,27.6 C101.0,27.5 103.8,25.0 104.3,21.0 C104.6,18.6 104.4,16.8 103.7,15.6" fill="none" stroke="#000" stroke-width="1.95" stroke-linecap="round"/><ellipse cx="103.9" cy="17.3" rx="1.25" ry="1.8" fill="#000"/></g>
<text transform="translate(349.18,291.30) scale(1.0773,1)" font-family="'Liberation Sans', sans-serif" font-weight="normal" font-style="normal" font-size="19.89" fill="#000" >n</text>
<rect x="363.20" y="269.50" width="15.9" height="1.7" fill="#000"/>
<rect x="363.20" y="275.30" width="15.9" height="1.7" fill="#000"/>
<text transform="translate(386.34,282.01) scale(0.9249,1)" font-family="'Liberation Sans', sans-serif" font-weight="normal" font-style="normal" font-size="29.24" fill="#000" stroke="#000" stroke-width="0.7">0.98</text>
<g transform="translate(0.00,0.00)"><path d="M108.1,232 V259.5 M142,232 V259.5" stroke="#000" stroke-width="1.45" fill="none"/><path d="M113.3,258.4 L116.2,247.8 C117.2,243.2 117.6,239.6 119.5,236.6 C120.8,234.5 122.6,233.4 124.6,233.4 C126.9,233.4 128.3,234.9 128.1,237.0 C127.9,239.7 125.6,241.3 122.6,241.4 M122.6,241.4 C125.8,241.5 127.5,243.2 127.3,246.0 C127.0,249.8 123.8,252.8 120.0,252.9 C118.2,252.9 116.7,252.2 115.9,250.8" stroke="#000" stroke-width="1.3" fill="none"/><path d="M120.6,241.4 H123.0" stroke="#000" stroke-width="1.7"/><path d="M134.2,230.7 L136.3,231.3 L131.9,240.4 L131.1,240.1 Z" fill="#000"/></g>
<g transform="translate(264.40,-5.10)"><path d="M108.1,232 V259.5 M142,232 V259.5" stroke="#000" stroke-width="1.45" fill="none"/><path d="M113.3,258.4 L116.2,247.8 C117.2,243.2 117.6,239.6 119.5,236.6 C120.8,234.5 122.6,233.4 124.6,233.4 C126.9,233.4 128.3,234.9 128.1,237.0 C127.9,239.7 125.6,241.3 122.6,241.4 M122.6,241.4 C125.8,241.5 127.5,243.2 127.3,246.0 C127.0,249.8 123.8,252.8 120.0,252.9 C118.2,252.9 116.7,252.2 115.9,250.8" stroke="#000" stroke-width="1.3" fill="none"/><path d="M120.6,241.4 H123.0" stroke="#000" stroke-width="1.7"/><path d="M134.2,230.7 L136.3,231.3 L131.9,240.4 L131.1,240.1 Z" fill="#000"/></g>
<g transform="translate(23.20,254.10)"><path d="M108.1,232 V259.5 M142,232 V259.5" stroke="#000" stroke-width="1.45" fill="none"/><path d="M113.3,258.4 L116.2,247.8 C117.2,243.2 117.6,239.6 119.5,236.6 C120.8,234.5 122.6,233.4 124.6,233.4 C126.9,233.4 128.3,234.9 128.1,237.0 C127.9,239.7 125.6,241.3 122.6,241.4 M122.6,241.4 C125.8,241.5 127.5,243.2 127.3,246.0 C127.0,249.8 123.8,252.8 120.0,252.9 C118.2,252.9 116.7,252.2 115.9,250.8" stroke="#000" stroke-width="1.3" fill="none"/><path d="M120.6,241.4 H123.0" stroke="#000" stroke-width="1.7"/><path d="M134.2,230.7 L136.3,231.3 L131.9,240.4 L131.1,240.1 Z" fill="#000"/></g>
<g transform="translate(263.30,251.30)"><path d="M108.1,232 V259.5 M142,232 V259.5" stroke="#000" stroke-width="1.45" fill="none"/><path d="M113.3,258.4 L116.2,247.8 C117.2,243.2 117.6,239.6 119.5,236.6 C120.8,234.5 122.6,233.4 124.6,233.4 C126.9,233.4 128.3,234.9 128.1,237.0 C127.9,239.7 125.6,241.3 122.6,241.4 M122.6,241.4 C125.8,241.5 127.5,243.2 127.3,246.0 C127.0,249.8 123.8,252.8 120.0,252.9 C118.2,252.9 116.7,252.2 115.9,250.8" stroke="#000" stroke-width="1.3" fill="none"/><path d="M120.6,241.4 H123.0" stroke="#000" stroke-width="1.7"/><path d="M134.2,230.7 L136.3,231.3 L131.9,240.4 L131.1,240.1 Z" fill="#000"/></g>
<path d="M8.70,129.80 L3.05,139.60 L8.70,149.50" stroke="#000" stroke-width="1.2" fill="none"/>
<g transform="translate(13.10,135.00) scale(1.0000,1.0000) translate(-13.1,-135)"><path d="M17.05,136.4 C15.6,135.6 14.2,136.8 14.1,138.6 C14.0,141.2 15.4,143.6 17.6,144.1 C19.4,144.5 20.5,143.3 20.9,141.6 C21.3,139.6 21.5,137.2 23.6,136.2 C25.6,135.4 28.3,136.5 29.2,139.3 C29.9,141.8 29.2,145.2 27.2,146.7 C26.5,147.2 25.8,147.1 25.4,146.5" fill="none" stroke="#000" stroke-width="1.35"/><path d="M19.0,144.0 C20.3,143.1 20.8,141.4 21.0,140.3 C21.3,138.7 21.8,137.0 23.3,136.3" fill="none" stroke="#000" stroke-width="2.2"/><circle cx="17.0" cy="136.7" r="1.35" fill="#000"/><circle cx="25.5" cy="146.0" r="1.75" fill="#000"/></g>
<path d="M250.00,115.50 L243.50,125.70 L250.00,135.70" stroke="#000" stroke-width="1.2" fill="none"/>
<g transform="translate(253.90,120.90) scale(1.0000,1.0236) translate(-13.1,-135)"><path d="M17.05,136.4 C15.6,135.6 14.2,136.8 14.1,138.6 C14.0,141.2 15.4,143.6 17.6,144.1 C19.4,144.5 20.5,143.3 20.9,141.6 C21.3,139.6 21.5,137.2 23.6,136.2 C25.6,135.4 28.3,136.5 29.2,139.3 C29.9,141.8 29.2,145.2 27.2,146.7 C26.5,147.2 25.8,147.1 25.4,146.5" fill="none" stroke="#000" stroke-width="1.35"/><path d="M19.0,144.0 C20.3,143.1 20.8,141.4 21.0,140.3 C21.3,138.7 21.8,137.0 23.3,136.3" fill="none" stroke="#000" stroke-width="2.2"/><circle cx="17.0" cy="136.7" r="1.35" fill="#000"/><circle cx="25.5" cy="146.0" r="1.75" fill="#000"/></g>
<path d="M6.40,360.40 L0.60,369.70 L6.40,379.60" stroke="#000" stroke-width="1.2" fill="none"/>
<g transform="translate(11.10,365.10) scale(0.9235,1.0551) translate(-13.1,-135)"><path d="M17.05,136.4 C15.6,135.6 14.2,136.8 14.1,138.6 C14.0,141.2 15.4,143.6 17.6,144.1 C19.4,144.5 20.5,143.3 20.9,141.6 C21.3,139.6 21.5,137.2 23.6,136.2 C25.6,135.4 28.3,136.5 29.2,139.3 C29.9,141.8 29.2,145.2 27.2,146.7 C26.5,147.2 25.8,147.1 25.4,146.5" fill="none" stroke="#000" stroke-width="1.35"/><path d="M19.0,144.0 C20.3,143.1 20.8,141.4 21.0,140.3 C21.3,138.7 21.8,137.0 23.3,136.3" fill="none" stroke="#000" stroke-width="2.2"/><circle cx="17.0" cy="136.7" r="1.35" fill="#000"/><circle cx="25.5" cy="146.0" r="1.75" fill="#000"/></g>
<path d="M252.70,367.40 L246.50,377.30 L252.70,387.00" stroke="#000" stroke-width="1.2" fill="none"/>
<g transform="translate(256.70,372.10) scale(1.0412,1.0945) translate(-13.1,-135)"><path d="M17.05,136.4 C15.6,135.6 14.2,136.8 14.1,138.6 C14.0,141.2 15.4,143.6 17.6,144.1 C19.4,144.5 20.5,143.3 20.9,141.6 C21.3,139.6 21.5,137.2 23.6,136.2 C25.6,135.4 28.3,136.5 29.2,139.3 C29.9,141.8 29.2,145.2 27.2,146.7 C26.5,147.2 25.8,147.1 25.4,146.5" fill="none" stroke="#000" stroke-width="1.35"/><path d="M19.0,144.0 C20.3,143.1 20.8,141.4 21.0,140.3 C21.3,138.7 21.8,137.0 23.3,136.3" fill="none" stroke="#000" stroke-width="2.2"/><circle cx="17.0" cy="136.7" r="1.35" fill="#000"/><circle cx="25.5" cy="146.0" r="1.75" fill="#000"/></g>
<text transform="translate(514.83,32.70) scale(0.95,1)" font-family="'Liberation Sans', sans-serif" font-weight="bold" font-style="normal" font-size="12.94" letter-spacing="0.39" fill="#000" stroke="#000" stroke-width="0.25">139047 50% - 99% ELM cycle</text>
<path d="M525.30,128.40 C527.08,128.45 531.53,128.52 536.00,128.70 C540.47,128.88 546.75,129.18 552.10,129.50 C557.45,129.82 561.82,130.18 568.10,130.60 C574.38,131.02 582.88,131.48 589.80,132.00 C596.72,132.52 603.73,133.22 609.60,133.70 C615.47,134.18 619.85,134.43 625.00,134.90 C630.15,135.37 635.33,135.93 640.50,136.50 C645.67,137.07 650.82,137.72 656.00,138.30 C661.18,138.88 665.38,139.45 671.60,140.00 C677.82,140.55 689.68,141.33 693.30,141.60" stroke="#1a823c" stroke-width="1.8" fill="none" stroke-dasharray="5.5 4"/>
<path d="M525.30,118.30 C526.02,118.62 528.17,119.08 529.60,120.20 C531.03,121.32 533.18,124.20 533.90,125.00" stroke="#3c46a2" stroke-width="1.6" fill="none"/>
<path d="M632.00,132.90 C632.90,132.07 635.47,129.50 637.40,127.90 C639.33,126.30 641.53,124.72 643.60,123.30 C645.67,121.88 647.73,120.57 649.80,119.40 C651.87,118.23 653.67,117.33 656.00,116.30 C658.33,115.27 661.20,114.10 663.80,113.20 C666.40,112.30 669.53,111.42 671.60,110.90 C673.67,110.38 673.37,110.23 676.20,110.10 C679.03,109.97 685.75,109.67 688.60,110.10 C691.45,110.53 692.52,112.27 693.30,112.70" stroke="#3c46a2" stroke-width="1.6" fill="none"/>
<path d="M525.30,135.30 C526.02,134.92 528.17,133.83 529.60,133.00 C531.03,132.17 533.18,130.75 533.90,130.30" stroke="#e6202a" stroke-width="1.6" fill="none"/>
<path d="M632.00,136.80 C632.90,137.65 635.47,140.27 637.40,141.90 C639.33,143.53 641.53,145.18 643.60,146.60 C645.67,148.02 647.73,149.25 649.80,150.40 C651.87,151.55 653.67,152.45 656.00,153.50 C658.33,154.55 661.20,155.73 663.80,156.70 C666.40,157.67 669.53,158.62 671.60,159.30 C673.67,159.98 672.58,160.55 676.20,160.80 C679.82,161.05 690.45,160.80 693.30,160.80" stroke="#e6202a" stroke-width="1.6" fill="none"/>
<path d="M525.30,158.10 C527.08,158.18 531.53,158.52 536.00,158.60 C540.47,158.68 546.75,158.77 552.10,158.60 C557.45,158.43 563.65,157.97 568.10,157.60 C572.55,157.23 575.15,156.85 578.80,156.40 C582.45,155.95 586.95,155.35 590.00,154.90 C593.05,154.45 594.75,154.22 597.10,153.70 C599.45,153.18 601.75,152.55 604.10,151.80 C606.45,151.05 608.83,150.15 611.20,149.20 C613.57,148.25 616.18,147.12 618.30,146.10 C620.42,145.08 622.13,144.03 623.90,143.10 C625.67,142.17 627.48,141.25 628.90,140.50 C630.32,139.75 631.22,139.10 632.40,138.60 C633.58,138.10 634.73,137.78 636.00,137.50 C637.27,137.22 638.73,137.03 640.00,136.90 C641.27,136.77 641.97,136.65 643.60,136.70 C645.23,136.75 647.73,136.80 649.80,137.20 C651.87,137.60 653.93,138.18 656.00,139.10 C658.07,140.02 660.12,141.20 662.20,142.70 C664.28,144.20 666.42,146.03 668.50,148.10 C670.58,150.17 672.63,152.63 674.70,155.10 C676.77,157.57 678.83,160.45 680.90,162.90 C682.97,165.35 685.03,167.88 687.10,169.80 C689.17,171.72 692.27,173.63 693.30,174.40" stroke="#000" stroke-width="1.8" fill="none"/>
<path d="M525.20,208.4 v-3.5 M525.20,46.4 v3.5 M533.62,208.4 v-1.8 M533.62,46.4 v1.8 M542.04,208.4 v-1.8 M542.04,46.4 v1.8 M550.46,208.4 v-1.8 M550.46,46.4 v1.8 M558.88,208.4 v-1.8 M558.88,46.4 v1.8 M567.30,208.4 v-3.5 M567.30,46.4 v3.5 M575.72,208.4 v-1.8 M575.72,46.4 v1.8 M584.14,208.4 v-1.8 M584.14,46.4 v1.8 M592.56,208.4 v-1.8 M592.56,46.4 v1.8 M600.98,208.4 v-1.8 M600.98,46.4 v1.8 M609.40,208.4 v-3.5 M609.40,46.4 v3.5 M617.82,208.4 v-1.8 M617.82,46.4 v1.8 M626.24,208.4 v-1.8 M626.24,46.4 v1.8 M634.66,208.4 v-1.8 M634.66,46.4 v1.8 M643.08,208.4 v-1.8 M643.08,46.4 v1.8 M651.50,208.4 v-3.5 M651.50,46.4 v3.5 M659.92,208.4 v-1.8 M659.92,46.4 v1.8 M668.34,208.4 v-1.8 M668.34,46.4 v1.8 M676.76,208.4 v-1.8 M676.76,46.4 v1.8 M685.18,208.4 v-1.8 M685.18,46.4 v1.8 M693.60,208.4 v-3.5 M693.60,46.4 v3.5 M525.2,208.40 h3.5 M693.6,208.40 h-3.5 M525.2,200.30 h1.8 M693.6,200.30 h-1.8 M525.2,192.20 h1.8 M693.6,192.20 h-1.8 M525.2,184.10 h1.8 M693.6,184.10 h-1.8 M525.2,176.00 h3.5 M693.6,176.00 h-3.5 M525.2,167.90 h1.8 M693.6,167.90 h-1.8 M525.2,159.80 h1.8 M693.6,159.80 h-1.8 M525.2,151.70 h1.8 M693.6,151.70 h-1.8 M525.2,143.60 h3.5 M693.6,143.60 h-3.5 M525.2,135.50 h1.8 M693.6,135.50 h-1.8 M525.2,127.40 h1.8 M693.6,127.40 h-1.8 M525.2,119.30 h1.8 M693.6,119.30 h-1.8 M525.2,111.20 h3.5 M693.6,111.20 h-3.5 M525.2,103.10 h1.8 M693.6,103.10 h-1.8 M525.2,95.00 h1.8 M693.6,95.00 h-1.8 M525.2,86.90 h1.8 M693.6,86.90 h-1.8 M525.2,78.80 h3.5 M693.6,78.80 h-3.5 M525.2,70.70 h1.8 M693.6,70.70 h-1.8 M525.2,62.60 h1.8 M693.6,62.60 h-1.8 M525.2,54.50 h1.8 M693.6,54.50 h-1.8 M525.2,46.40 h3.5 M693.6,46.40 h-3.5" stroke="#333" stroke-width="0.8" fill="none"/>
<path d="M525.2,46.4 H693.6 V208.4" stroke="#777" stroke-width="0.7" fill="none"/>
<path d="M524.9000000000001,46.4 V208.4" stroke="#bbb" stroke-width="1.3" fill="none"/>
<path d="M524.2,208.4 H693.9" stroke="#444" stroke-width="0.9" fill="none"/>
<text transform="translate(531.13,60.50) scale(1.0,1)" font-family="'Liberation Sans', sans-serif" font-weight="bold" font-style="normal" font-size="12.94" letter-spacing="0.23" fill="#000" stroke="#000" stroke-width="0.25">Experiment</text>
<text transform="translate(531.13,74.60) scale(1.0,1)" font-family="'Liberation Sans', sans-serif" font-weight="bold" font-style="normal" font-size="12.94" letter-spacing="0.18" fill="#e6202a" stroke="#e6202a" stroke-width="0.25">First Stab.</text>
<text transform="translate(531.43,88.30) scale(1.0,1)" font-family="'Liberation Sans', sans-serif" font-weight="bold" font-style="normal" font-size="12.94" letter-spacing="0.21" fill="#3c46a2" stroke="#3c46a2" stroke-width="0.25">Second Stab.</text>
<path d="M532.6,92.8 V105.6 M548.2,92.8 V105.6" stroke="#1a823c" stroke-width="1.1"/>
<text transform="translate(533.45,102.67) scale(1.3039,1)" font-family="'Liberation Serif', serif" font-weight="normal" font-style="normal" font-size="13.74" fill="#1a823c" >β</text>
<path d="M544.0,93.2 V97.2" stroke="#1a823c" stroke-width="1.0"/>
<text transform="translate(552.42,102.10) scale(1.0,1)" font-family="'Liberation Sans', sans-serif" font-weight="bold" font-style="normal" font-size="12.94" letter-spacing="0.23" fill="#1a823c" stroke="#1a823c" stroke-width="0.25">at min s</text>
<text transform="translate(664.78,69.64) scale(1.0295,1)" font-family="'Liberation Sans', sans-serif" font-weight="normal" font-style="normal" font-size="19.11" fill="#000" >(e)</text>
<text transform="translate(504.11,208.40) scale(0.9,1)" font-family="'Liberation Sans', sans-serif" font-weight="bold" font-style="normal" font-size="13.90" letter-spacing="0.12" fill="#000" stroke="#000" stroke-width="0.25">0.0</text>
<text transform="translate(504.11,180.50) scale(0.9,1)" font-family="'Liberation Sans', sans-serif" font-weight="bold" font-style="normal" font-size="13.90" letter-spacing="0.12" fill="#000" stroke="#000" stroke-width="0.25">0.2</text>
<text transform="translate(504.11,148.10) scale(0.9,1)" font-family="'Liberation Sans', sans-serif" font-weight="bold" font-style="normal" font-size="13.90" letter-spacing="-0.12" fill="#000" stroke="#000" stroke-width="0.25">0.4</text>
<text transform="translate(504.11,115.70) scale(0.9,1)" font-family="'Liberation Sans', sans-serif" font-weight="bold" font-style="normal" font-size="13.90" letter-spacing="0.09" fill="#000" stroke="#000" stroke-width="0.25">0.6</text>
<text transform="translate(504.11,83.30) scale(0.9,1)" font-family="'Liberation Sans', sans-serif" font-weight="bold" font-style="normal" font-size="13.90" letter-spacing="0.05" fill="#000" stroke="#000" stroke-width="0.25">0.8</text>
<text transform="translate(503.81,55.10) scale(0.9,1)" font-family="'Liberation Sans', sans-serif" font-weight="bold" font-style="normal" font-size="13.90" letter-spacing="0.29" fill="#000" stroke="#000" stroke-width="0.25">1.0</text>
<text transform="translate(512.71,225.00) scale(0.9,1)" font-family="'Liberation Sans', sans-serif" font-weight="bold" font-style="normal" font-size="13.90" letter-spacing="0.25" fill="#000" stroke="#000" stroke-width="0.25">0.80</text>
<text transform="translate(554.81,225.00) scale(0.9,1)" font-family="'Liberation Sans', sans-serif" font-weight="bold" font-style="normal" font-size="13.90" letter-spacing="0.19" fill="#000" stroke="#000" stroke-width="0.25">0.85</text>
<text transform="translate(596.91,225.00) scale(0.9,1)" font-family="'Liberation Sans', sans-serif" font-weight="bold" font-style="normal" font-size="13.90" letter-spacing="0.25" fill="#000" stroke="#000" stroke-width="0.25">0.90</text>
<text transform="translate(639.01,225.00) scale(0.9,1)" font-family="'Liberation Sans', sans-serif" font-weight="bold" font-style="normal" font-size="13.90" letter-spacing="0.19" fill="#000" stroke="#000" stroke-width="0.25">0.95</text>
<text transform="translate(680.81,225.00) scale(0.9,1)" font-family="'Liberation Sans', sans-serif" font-weight="bold" font-style="normal" font-size="13.90" letter-spacing="0.35" fill="#000" stroke="#000" stroke-width="0.25">1.00</text>
<g transform="translate(605.85,231.60) scale(0.8280) translate(-97.5,-12.9)"><path d="M96.95,12.9 L98.05,12.9 L98.3,27.2 L98.8,33.9 L96.2,33.9 L96.7,27.2 Z" fill="#000"/><path d="M87.5,19.2 C87.6,17.0 88.6,15.5 90.0,15.5 C91.5,15.5 92.1,17.2 92.3,20.0 C92.5,24.5 94.2,27.4 97.5,27.6 C101.0,27.5 103.8,25.0 104.3,21.0 C104.6,18.6 104.4,16.8 103.7,15.6" fill="none" stroke="#000" stroke-width="1.95" stroke-linecap="round"/><ellipse cx="103.9" cy="17.3" rx="1.25" ry="1.8" fill="#000"/></g>
<text transform="translate(612.69,254.70) scale(1.0337,1)" font-family="'Liberation Sans', sans-serif" font-weight="normal" font-style="normal" font-size="16.17" fill="#000" >n</text>
<text transform="translate(492.67,137.42) rotate(-90) scale(1.0292,1)" font-family="'Liberation Sans', sans-serif" font-weight="normal" font-style="normal" font-size="14.31" fill="#000">|β'|</text>
<path d="M526.02,421.01 L528.83,420.44 L531.69,419.90 L534.58,419.36 L537.51,418.84 L540.47,418.33 L543.46,417.83 L546.48,417.33 L549.53,416.83 L552.61,416.34 L555.70,415.84 L558.81,415.34 L561.94,414.83 L565.08,414.32 L568.23,413.79 L571.40,413.25 L574.57,412.69 L577.74,412.11 L580.91,411.51 L584.08,410.89 L587.25,410.24 L590.42,409.57 L593.57,408.86 L596.71,408.12 L599.84,407.34 L602.96,406.52 L606.05,405.67 L609.12,404.77 L612.17,403.83 L615.20,402.83 L618.19,401.79 L621.16,400.70 L624.09,399.55 L626.98,398.34 L629.84,397.07 L632.66,395.74 L635.43,394.35 L638.16,392.88 L640.83,391.35 L643.46,389.75 L646.03,388.07 L648.55,386.31 L651.01,384.48 L653.41,382.56 L655.74,380.56 L658.01,378.47 L660.21,376.30 L662.34,374.03 L664.40,371.69 L666.38,369.26 L668.28,366.76 L670.09,364.19 L671.82,361.55 L673.46,358.84 L675.01,356.08 L676.47,353.27 L677.82,350.40 L679.08,347.49 L680.23,344.53 L681.28,341.54 L682.21,338.52 L683.04,335.46 L683.76,332.38 L684.39,329.28 L684.93,326.15 L685.40,323.01 L685.81,319.86 L686.16,316.70 L686.46,313.53 L686.73,310.36 L686.98,307.18 L687.21,304.02 L687.43,300.86 L687.65,297.71 L687.89,294.57 L688.16,291.45 L688.45,288.36 L688.79,285.28 L689.18,282.23 L689.63,279.22" stroke="#000" stroke-width="1.8" fill="none"/>
<path d="M525.58,421.22 L528.66,420.57 L531.74,419.95 L534.82,419.34 L537.92,418.75 L541.02,418.18 L544.12,417.62 L547.23,417.07 L550.34,416.53 L553.45,415.99 L556.57,415.46 L559.69,414.93 L562.82,414.40 L565.94,413.86 L569.07,413.31 L572.19,412.76 L575.32,412.19 L578.45,411.61 L581.57,411.01 L584.70,410.39 L587.82,409.75 L590.94,409.09 L594.06,408.40 L597.17,407.68 L600.28,406.92 L603.39,406.13 L606.49,405.31 L609.59,404.45 L612.68,403.54 L615.76,402.59 L618.84,401.59 L621.92,400.54 L624.98,399.44 L628.02,398.29 L631.03,397.08 L634.02,395.80 L636.98,394.47 L639.89,393.07 L642.75,391.60 L645.56,390.06 L648.31,388.45 L651.00,386.76 L653.61,384.99 L656.15,383.14 L658.60,381.21 L660.96,379.19 L663.23,377.08 L665.40,374.88 L667.47,372.59 L669.44,370.21 L671.31,367.76 L673.08,365.23 L674.75,362.62 L676.32,359.95 L677.79,357.20 L679.16,354.40 L680.43,351.53 L681.61,348.61 L682.69,345.64 L683.67,342.62 L684.55,339.56 L685.33,336.45 L686.03,333.31 L686.63,330.14 L687.17,326.94 L687.63,323.72 L688.03,320.48 L688.37,317.24 L688.67,313.98 L688.93,310.73 L689.15,307.48 L689.35,304.24 L689.53,301.01 L689.70,297.80 L689.87,294.61 L690.04,291.46 L690.22,288.34 L690.42,285.25 L690.65,282.21 L690.90,279.22" stroke="#e6202a" stroke-width="1.8" fill="none"/>
<path d="M525.20,440.3 v-3.5 M525.20,278.6 v3.5 M533.62,440.3 v-1.8 M533.62,278.6 v1.8 M542.04,440.3 v-1.8 M542.04,278.6 v1.8 M550.46,440.3 v-1.8 M550.46,278.6 v1.8 M558.88,440.3 v-1.8 M558.88,278.6 v1.8 M567.30,440.3 v-3.5 M567.30,278.6 v3.5 M575.72,440.3 v-1.8 M575.72,278.6 v1.8 M584.14,440.3 v-1.8 M584.14,278.6 v1.8 M592.56,440.3 v-1.8 M592.56,278.6 v1.8 M600.98,440.3 v-1.8 M600.98,278.6 v1.8 M609.40,440.3 v-3.5 M609.40,278.6 v3.5 M617.82,440.3 v-1.8 M617.82,278.6 v1.8 M626.24,440.3 v-1.8 M626.24,278.6 v1.8 M634.66,440.3 v-1.8 M634.66,278.6 v1.8 M643.08,440.3 v-1.8 M643.08,278.6 v1.8 M651.50,440.3 v-3.5 M651.50,278.6 v3.5 M659.92,440.3 v-1.8 M659.92,278.6 v1.8 M668.34,440.3 v-1.8 M668.34,278.6 v1.8 M676.76,440.3 v-1.8 M676.76,278.6 v1.8 M685.18,440.3 v-1.8 M685.18,278.6 v1.8 M693.60,440.3 v-3.5 M693.60,278.6 v3.5 M525.2,440.30 h3.5 M693.6,440.30 h-3.5 M525.2,432.22 h1.8 M693.6,432.22 h-1.8 M525.2,424.13 h1.8 M693.6,424.13 h-1.8 M525.2,416.05 h1.8 M693.6,416.05 h-1.8 M525.2,407.96 h1.8 M693.6,407.96 h-1.8 M525.2,399.88 h3.5 M693.6,399.88 h-3.5 M525.2,391.79 h1.8 M693.6,391.79 h-1.8 M525.2,383.71 h1.8 M693.6,383.71 h-1.8 M525.2,375.62 h1.8 M693.6,375.62 h-1.8 M525.2,367.54 h1.8 M693.6,367.54 h-1.8 M525.2,359.45 h3.5 M693.6,359.45 h-3.5 M525.2,351.37 h1.8 M693.6,351.37 h-1.8 M525.2,343.28 h1.8 M693.6,343.28 h-1.8 M525.2,335.20 h1.8 M693.6,335.20 h-1.8 M525.2,327.11 h1.8 M693.6,327.11 h-1.8 M525.2,319.02 h3.5 M693.6,319.02 h-3.5 M525.2,310.94 h1.8 M693.6,310.94 h-1.8 M525.2,302.86 h1.8 M693.6,302.86 h-1.8 M525.2,294.77 h1.8 M693.6,294.77 h-1.8 M525.2,286.69 h1.8 M693.6,286.69 h-1.8 M525.2,278.60 h3.5 M693.6,278.60 h-3.5" stroke="#333" stroke-width="0.8" fill="none"/>
<path d="M525.2,278.6 H693.6 V440.3" stroke="#777" stroke-width="0.7" fill="none"/>
<path d="M524.9000000000001,278.6 V440.3" stroke="#bbb" stroke-width="1.3" fill="none"/>
<path d="M524.2,440.3 H693.9" stroke="#444" stroke-width="0.9" fill="none"/>
<text transform="translate(531.33,292.80) scale(1.0,1)" font-family="'Liberation Sans', sans-serif" font-weight="bold" font-style="normal" font-size="12.94" letter-spacing="0.23" fill="#000" stroke="#000" stroke-width="0.25">Experiment</text>
<text transform="translate(531.33,306.90) scale(1.0,1)" font-family="'Liberation Sans', sans-serif" font-weight="bold" font-style="normal" font-size="12.94" letter-spacing="0.20" fill="#e6202a" stroke="#e6202a" stroke-width="0.25">Min s for instab.</text>
<text transform="translate(657.09,298.08) scale(1.1678,1)" font-family="'Liberation Sans', sans-serif" font-weight="normal" font-style="normal" font-size="19.43" fill="#000" >(f)</text>
<text transform="translate(514.76,440.30) scale(0.9,1)" font-family="'Liberation Sans', sans-serif" font-weight="bold" font-style="normal" font-size="13.90" letter-spacing="0.00" fill="#000" stroke="#000" stroke-width="0.25">0</text>
<text transform="translate(514.59,404.38) scale(0.9,1)" font-family="'Liberation Sans', sans-serif" font-weight="bold" font-style="normal" font-size="13.90" letter-spacing="0.00" fill="#000" stroke="#000" stroke-width="0.25">5</text>
<text transform="translate(507.01,363.95) scale(0.9,1)" font-family="'Liberation Sans', sans-serif" font-weight="bold" font-style="normal" font-size="13.90" letter-spacing="0.88" fill="#000" stroke="#000" stroke-width="0.25">10</text>
<text transform="translate(507.01,323.52) scale(0.9,1)" font-family="'Liberation Sans', sans-serif" font-weight="bold" font-style="normal" font-size="13.90" letter-spacing="0.69" fill="#000" stroke="#000" stroke-width="0.25">15</text>
<text transform="translate(507.37,287.30) scale(0.9,1)" font-family="'Liberation Sans', sans-serif" font-weight="bold" font-style="normal" font-size="13.90" letter-spacing="0.48" fill="#000" stroke="#000" stroke-width="0.25">20</text>
<text transform="translate(512.71,456.90) scale(0.9,1)" font-family="'Liberation Sans', sans-serif" font-weight="bold" font-style="normal" font-size="13.90" letter-spacing="0.25" fill="#000" stroke="#000" stroke-width="0.25">0.80</text>
<text transform="translate(554.81,456.90) scale(0.9,1)" font-family="'Liberation Sans', sans-serif" font-weight="bold" font-style="normal" font-size="13.90" letter-spacing="0.19" fill="#000" stroke="#000" stroke-width="0.25">0.85</text>
<text transform="translate(596.91,456.90) scale(0.9,1)" font-family="'Liberation Sans', sans-serif" font-weight="bold" font-style="normal" font-size="13.90" letter-spacing="0.25" fill="#000" stroke="#000" stroke-width="0.25">0.90</text>
<text transform="translate(639.01,456.90) scale(0.9,1)" font-family="'Liberation Sans', sans-serif" font-weight="bold" font-style="normal" font-size="13.90" letter-spacing="0.19" fill="#000" stroke="#000" stroke-width="0.25">0.95</text>
<text transform="translate(680.81,456.90) scale(0.9,1)" font-family="'Liberation Sans', sans-serif" font-weight="bold" font-style="normal" font-size="13.90" letter-spacing="0.35" fill="#000" stroke="#000" stroke-width="0.25">1.00</text>
<g transform="translate(605.85,465.90) scale(0.8280) translate(-97.5,-12.9)"><path d="M96.95,12.9 L98.05,12.9 L98.3,27.2 L98.8,33.9 L96.2,33.9 L96.7,27.2 Z" fill="#000"/><path d="M87.5,19.2 C87.6,17.0 88.6,15.5 90.0,15.5 C91.5,15.5 92.1,17.2 92.3,20.0 C92.5,24.5 94.2,27.4 97.5,27.6 C101.0,27.5 103.8,25.0 104.3,21.0 C104.6,18.6 104.4,16.8 103.7,15.6" fill="none" stroke="#000" stroke-width="1.95" stroke-linecap="round"/><ellipse cx="103.9" cy="17.3" rx="1.25" ry="1.8" fill="#000"/></g>
<text transform="translate(612.69,489.00) scale(1.0337,1)" font-family="'Liberation Sans', sans-serif" font-weight="normal" font-style="normal" font-size="16.17" fill="#000" >n</text>
<path d="M485.70,349.20 L481.00,355.70 L485.70,362.60" stroke="#000" stroke-width="1.2" fill="none"/>
<g transform="translate(487.90,353.10) scale(0.6412,0.6535) translate(-13.1,-135)"><path d="M17.05,136.4 C15.6,135.6 14.2,136.8 14.1,138.6 C14.0,141.2 15.4,143.6 17.6,144.1 C19.4,144.5 20.5,143.3 20.9,141.6 C21.3,139.6 21.5,137.2 23.6,136.2 C25.6,135.4 28.3,136.5 29.2,139.3 C29.9,141.8 29.2,145.2 27.2,146.7 C26.5,147.2 25.8,147.1 25.4,146.5" fill="none" stroke="#000" stroke-width="1.35"/><path d="M19.0,144.0 C20.3,143.1 20.8,141.4 21.0,140.3 C21.3,138.7 21.8,137.0 23.3,136.3" fill="none" stroke="#000" stroke-width="2.2"/><circle cx="17.0" cy="136.7" r="1.35" fill="#000"/><circle cx="25.5" cy="146.0" r="1.75" fill="#000"/></g>
</svg>
</body></html>
